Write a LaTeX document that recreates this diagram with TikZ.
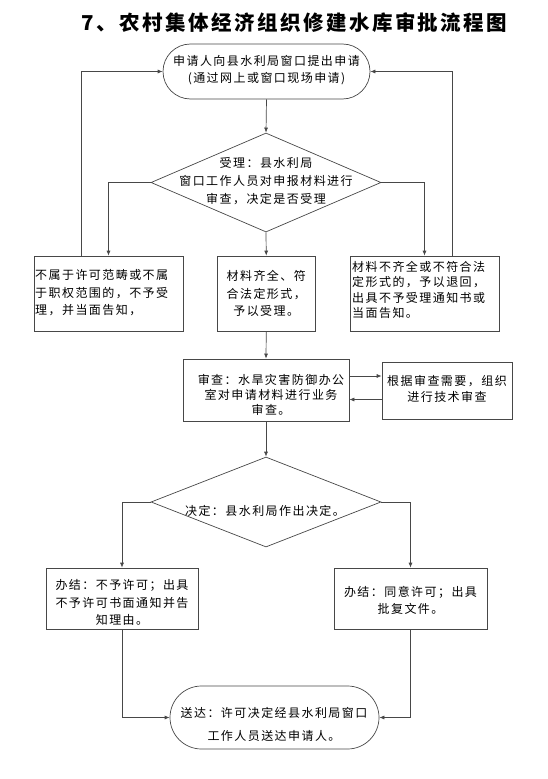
\documentclass[tikz,border=0pt]{standalone}
\usepackage{fontspec}
\newfontfamily\cjk[LetterSpace=12]{Noto Sans CJK SC}
\usetikzlibrary{shapes.geometric,arrows.meta}
\begin{document}
\begin{tikzpicture}[x=1pt,y=-1pt,
  line/.style={draw=black!72, line width=0.7pt},
  arr/.style={line, -{Latex[length=5pt,width=4pt]}},
  box/.style={line, rectangle, inner sep=0pt},
  term/.style={box, rounded corners=#1},
  dia/.style={line, diamond, inner sep=0pt},
  txt/.style={font=\cjk\fontsize{12}{#1}\selectfont, inner sep=0pt, text=black, align=center},
  ltxt/.style={txt=#1, align=left, anchor=west},
]
\useasboundingbox (0,0) rectangle (548,779);
% title
\node[font=\cjk\bfseries\fontsize{20.5}{24}\selectfont, inner sep=0pt] (title) at (294.5,22.5) {7、农村集体经济组织修建水库审批流程图};
% shapes
\node[term=27.5pt, minimum width=207pt, minimum height=55pt] (start) at (266.5,71.5) {};
\node[dia, minimum width=230pt, minimum height=99pt] (d1) at (266,182.5) {};
\node[box, minimum width=149pt, minimum height=75pt] (lb) at (108.5,293.5) {};
\node[box, minimum width=97.5pt, minimum height=75pt] (mb) at (266.25,293.5) {};
\node[box, minimum width=149pt, minimum height=75pt] (rb) at (424.5,293.5) {};
\node[box, minimum width=166pt, minimum height=62pt] (rev) at (266,390) {};
\node[box, minimum width=130pt, minimum height=57pt] (tech) at (447,390.5) {};
\node[dia, minimum width=230pt, minimum height=90pt] (d2) at (266,502) {};
\node[box, minimum width=152pt, minimum height=61pt] (bl) at (122,598.5) {};
\node[box, minimum width=153pt, minimum height=61pt] (br) at (410.5,598.5) {};
\node[term=31.5pt, minimum width=209pt, minimum height=63pt] (end) at (274.5,717.5) {};
% texts
\node[txt=17] (startt) at (266.5,70.5) {申请人向县水利局窗口提出申请\\(通过网上或窗口现场申请)};
\node[txt=18] (d1t) at (266,181) {受理：县水利局\\窗口工作人员对申报材料进行\\审查，决定是否受理};
\node[ltxt=17.5] (lbt) at (35,292.7) {不属于许可范畴或不属\\于职权范围的，不予受\\理，并当面告知，};
\node[txt=17.5] (mbt) at (266.25,293.5) {材料齐全、符\\合法定形式，\\予以受理。};
\node[ltxt=15.3] (rbt) at (352,290) {材料不齐全或不符合法\\定形式的，予以退回，\\出具不予受理通知书或\\当面告知。};
\node[txt=15] (revt) at (271,395) {审查：水旱灾害防御办公\\室对申请材料进行业务\\审查。};
\node[txt=16] (techt) at (447,389) {根据审查需要，组织\\进行技术审查};
\node[txt=16] (d2t) at (265,511) {决定：县水利局作出决定。};
\node[txt=17.5] (blt) at (122,602.5) {办结：不予许可；出具\\不予许可书面通知并告\\知理由。};
\node[txt=17] (brt) at (410.5,600.5) {办结：同意许可；出具\\批复文件。};
\node[txt=23] (endt) at (274,724.5) {送达：许可决定经县水利局窗口\\工作人员送达申请人。};
% connectors
\coordinate (lbl) at (81,256);
\coordinate (rbl) at (452,256);
\draw[arr] (start.south) -- (d1.north);
\draw[arr] (d1.west) -| (lb.north);
\draw[arr] (d1.south) -- (mb.north);
\draw[arr] (d1.east) -| (rb.north);
\draw[arr] (lbl) |- (start.west);
\draw[arr] (rbl) |- (start.east);
\draw[arr] (mb.south) -- (rev.north);
\draw[arr] ([yshift=14pt]rev.east) -- ([yshift=14pt]rev.east -| tech.west);
\draw[arr] ([yshift=-9pt]tech.west) -- ([yshift=-9pt]tech.west -| rev.east);
\draw[arr] (rev.south) -- (d2.north);
\draw[arr] (d2.west) -| (bl.north);
\draw[arr] (d2.east) -| (br.north);
\draw[arr] (bl.south) |- (end.west);
\draw[arr] (br.south) |- (end.east);
\end{tikzpicture}
\end{document}
